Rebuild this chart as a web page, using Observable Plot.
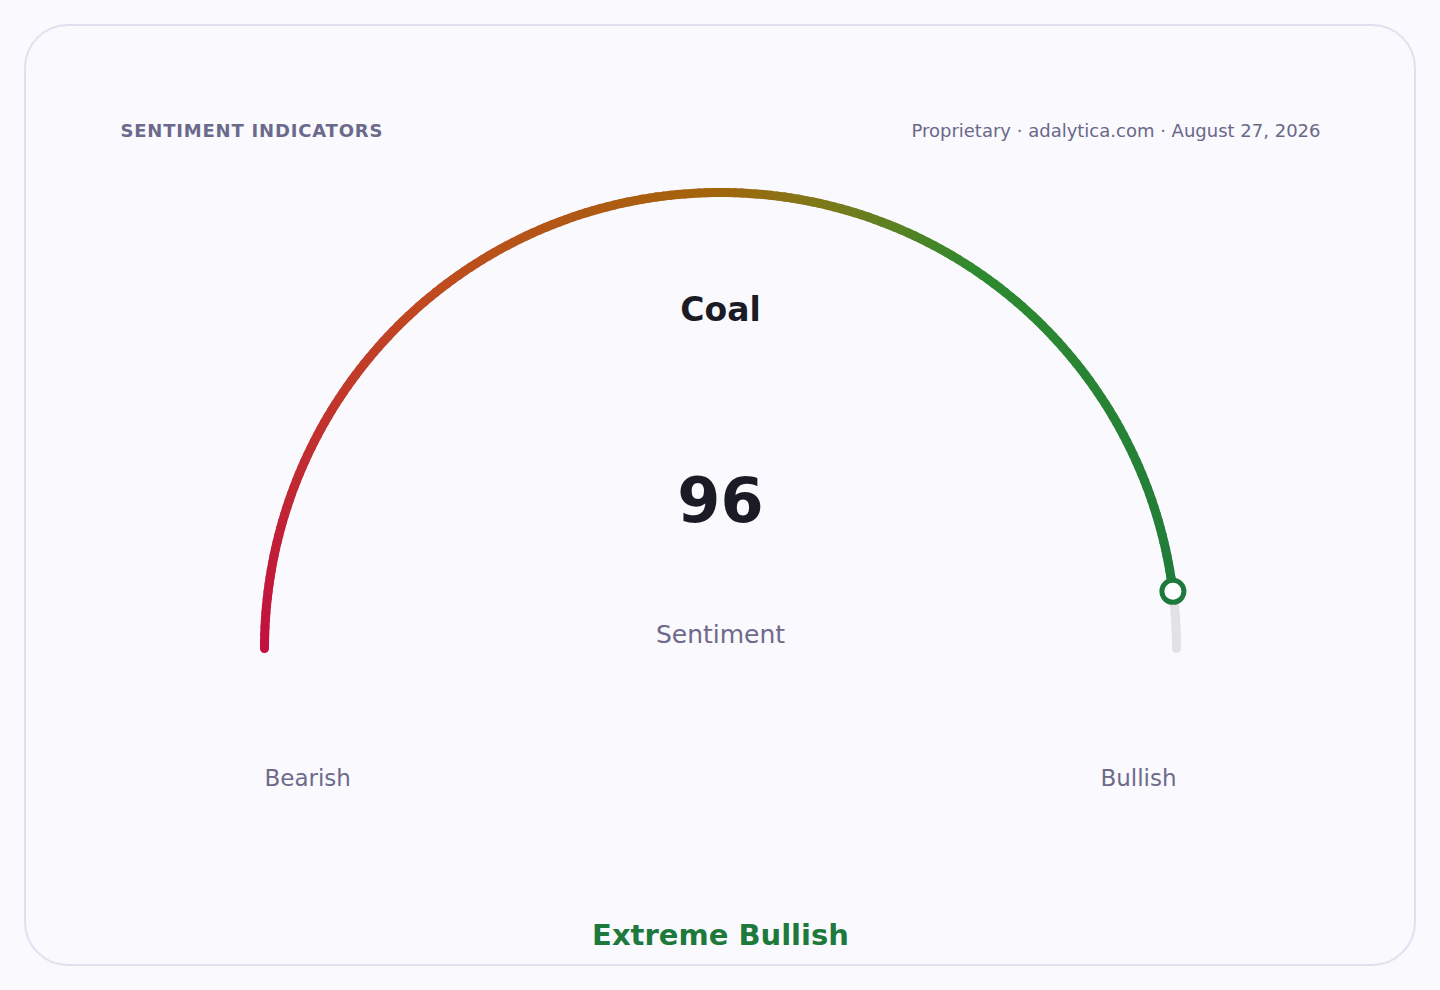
<!DOCTYPE html>
<html>
<head>
<meta charset="utf-8">
<script src="https://cdn.jsdelivr.net/npm/d3@7"></script>
<script src="https://cdn.jsdelivr.net/npm/@observablehq/plot@0.6"></script>
<style>
  html, body { margin: 0; padding: 0; background: #f9f9fe; }
  body { width: 1440px; height: 990px; position: relative; overflow: hidden; font-family: "DejaVu Sans", sans-serif; }
  .card { position: absolute; left: 24px; top: 24px; width: 1388px; height: 938px; border: 2px solid #e2e0f0; border-radius: 44px; background: #f9f9fe; }
  #chart { position: absolute; left: 0; top: 0; }
</style>
</head>
<body>
<div class="card"></div>
<div id="chart"></div>
<script>
// ---- data ----
const title = "SENTIMENT INDICATORS";
const source = "Proprietary · adalytica.com · August 27, 2026";
const asset = "Coal";
const metric = "Sentiment";
const value = 96;
const scaleMin = 0;
const scaleMax = 100;
const endLabels = ["Bearish", "Bullish"];
const verdict = "Extreme Bullish";
const colorStops = [0, 28, 50, 58, 69, 100];
const colorRange = ["#c20f40", "#c04a20", "#a3650a", "#7a7a1a", "#2e8a2e", "#1e7a3c"];

// ---- geometry helpers (value -> unit semicircle) ----
const frac = v => (v - scaleMin) / (scaleMax - scaleMin);
const ux = v => -Math.cos(Math.PI * frac(v));
const uy = v => Math.sin(Math.PI * frac(v));

const step = 0.5;
const filled = d3.range(scaleMin, value, step).map(v => ({a: v, b: Math.min(v + step, value)}));
const track = d3.range(scaleMin, scaleMax, step).map(v => ({a: v, b: Math.min(v + step, scaleMax)}));

const FONT = "DejaVu Sans, sans-serif";

const chart = Plot.plot({
  width: 1440,
  height: 990,
  margin: 0,
  style: {background: "transparent", fontFamily: FONT, overflow: "visible"},
  x: {domain: [-1, 1], range: [264, 1176], axis: null},
  y: {domain: [0, 1], range: [648, 192], axis: null},
  color: {type: "linear", domain: colorStops, range: colorRange, interpolate: "rgb"},
  marks: [
    Plot.link(track, {
      x1: d => ux(d.a), y1: d => uy(d.a), x2: d => ux(d.b), y2: d => uy(d.b),
      stroke: "#e1e1e6", strokeWidth: 9, strokeLinecap: "round"
    }),
    Plot.link(filled, {
      x1: d => ux(d.a), y1: d => uy(d.a), x2: d => ux(d.b), y2: d => uy(d.b),
      stroke: d => (d.a + d.b) / 2, strokeWidth: 9, strokeLinecap: "round"
    }),
    Plot.dot([value], {x: d => ux(d), y: d => uy(d), r: 11, fill: "white", stroke: "#1e7a3c", strokeWidth: 5}),
    // center texts
    Plot.text([asset], {x: () => 0, y: () => 0, text: d => d, dy: -328, lineAnchor: "bottom", fontSize: 33, fontWeight: "bold", fill: "#1b1b26"}),
    Plot.text([value], {x: () => 0, y: () => 0, text: d => String(d), dy: -127, lineAnchor: "bottom", fontSize: 62, fontWeight: "bold", fill: "#1b1b26"}),
    Plot.text([metric], {x: () => 0, y: () => 0, text: d => d, dy: -6, lineAnchor: "bottom", fontSize: 25, fill: "#6e6a8a"}),
    Plot.text([verdict], {x: () => 0, y: () => 0, text: d => d, dy: 296, lineAnchor: "bottom", fontSize: 29, fontWeight: "bold", fill: "#1e7a3c"}),
    // end labels
    Plot.text([scaleMin], {x: d => ux(d), y: d => uy(d), text: () => endLabels[0], dy: 137, lineAnchor: "bottom", textAnchor: "start", fontSize: 23, fill: "#6e6a8a"}),
    Plot.text([scaleMax], {x: d => ux(d), y: d => uy(d), text: () => endLabels[1], dy: 137, lineAnchor: "bottom", textAnchor: "end", fontSize: 23, fill: "#6e6a8a"}),
    // header
    Plot.text([title], {frameAnchor: "top-left", text: d => d, dx: 120, dy: 136, lineAnchor: "bottom", textAnchor: "start", fontSize: 18, fontWeight: "bold", fill: "#6c6a8c"}),
    Plot.text([source], {frameAnchor: "top-right", text: d => d, dx: -120, dy: 136, lineAnchor: "bottom", textAnchor: "end", fontSize: 18, fill: "#6a6888"})
  ]
});
d3.select(chart).selectAll("text").filter(function() { return this.textContent === title; }).attr("letter-spacing", "0.8");
document.getElementById("chart").appendChild(chart);
</script>
</body>
</html>
